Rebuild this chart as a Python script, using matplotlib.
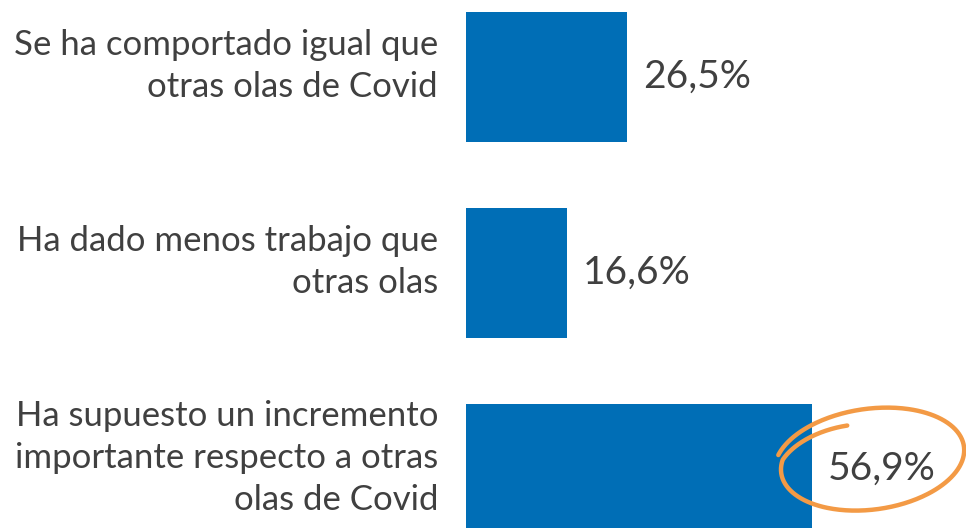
import numpy as np
import matplotlib
matplotlib.use("Agg")
import matplotlib.pyplot as plt
from matplotlib.transforms import ScaledTranslation, blended_transform_factory

plt.rcParams['font.family'] = ['Lato', 'DejaVu Sans']

categories = [
    "Se ha comportado igual que\notras olas de Covid",
    "Ha dado menos trabajo que\notras olas",
    "Ha supuesto un incremento\nimportante respecto a otras\nolas de Covid",
]
values = [26.5, 16.6, 56.9]
value_labels = ["26,5%", "16,6%", "56,9%"]
highlight_index = 2

BAR_COLOR = "#006EB6"
TEXT_COLOR = "#404040"
CIRCLE_COLOR = "#F39A45"

W, H, DPI = 9.66, 5.28, 100
fig = plt.figure(figsize=(W, H), dpi=DPI)
ax = fig.add_axes([466 / 966, 0, 500 / 966, 1])

y = np.arange(len(categories))
ax.barh(y, values, height=0.663, color=BAR_COLOR, zorder=2)
ax.set_xlim(0, 500 / 6.08)
ax.set_ylim(2.301, -0.393)
ax.axis("off")

fs = 25
lab_tr = blended_transform_factory(ax.transAxes, ax.transData) + \
    ScaledTranslation(-28 / DPI, 11 / DPI, fig.dpi_scale_trans)
for yi, cat in zip(y, categories):
    ax.text(0, yi, cat, transform=lab_tr, ha="right", va="center",
            multialignment="right", fontsize=fs, color=TEXT_COLOR,
            linespacing=1.38, clip_on=False)

val_off = ScaledTranslation(16 / DPI, 0, fig.dpi_scale_trans)
for yi, v, lab in zip(y, values, value_labels):
    ax.text(v, yi, lab, transform=ax.transData + val_off, ha="left",
            va="center", fontsize=28, color=TEXT_COLOR, zorder=3)

# hand-drawn style circle around highlighted value
v = values[highlight_index]
anchor = ScaledTranslation(v, highlight_index, ax.transData)
tr = fig.dpi_scale_trans + anchor
cx, cy = 0.59, 0.09
a, b = 0.95, 0.51
rot = np.deg2rad(8)
t = np.deg2rad(np.linspace(105, 520, 400))
frac = (t - t[0]) / (t[-1] - t[0])
s = 0.76 + 0.18 * np.clip((t - t[0]) / np.deg2rad(60), 0, 1) + 0.08 * frac
ex = a * s * np.cos(t)
ey = b * s * np.sin(t)
px = cx + ex * np.cos(rot) - ey * np.sin(rot)
py = cy + ex * np.sin(rot) + ey * np.cos(rot)
ax.plot(px, py, transform=tr, color=CIRCLE_COLOR, lw=3.2, solid_capstyle="round",
        clip_on=False, zorder=4)

fig.savefig("out.png", dpi=DPI)
